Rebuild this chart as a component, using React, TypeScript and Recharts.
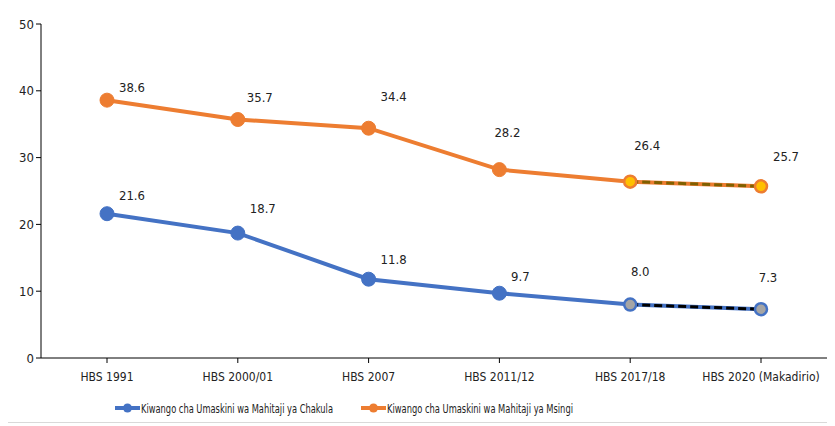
import { LineChart, Line, XAxis, YAxis, Legend } from 'recharts'

const surveys = ['HBS 1991', 'HBS 2000/01', 'HBS 2007', 'HBS 2011/12', 'HBS 2017/18', 'HBS 2020 (Makadirio)']
const foodPoverty = [21.6, 18.7, 11.8, 9.7, 8.0, 7.3]
const basicNeedsPoverty = [38.6, 35.7, 34.4, 28.2, 26.4, 25.7]
const yTicks = [0, 10, 20, 30, 40, 50]

const FOOD_NAME = 'Kiwango cha Umaskini wa Mahitaji ya Chakula'
const BASIC_NAME = 'Kiwango cha Umaskini wa Mahitaji ya Msingi'
const BLUE = '#4472C4'
const ORANGE = '#ED7D31'
const PROJ_START = 4

// hand-placed data label offsets (dx, dy from the point), as in the source chart
const foodLabelOffsets = [[25, -18], [25, -25], [25, -20], [21, -17], [10, -33], [7, -32]]
const basicLabelOffsets = [[25, -13], [22, -22], [25, -32], [8, -37], [17, -36], [25, -30]]

const data = surveys.map((s, i) => ({
 survey: s,
 food: foodPoverty[i],
 basic: basicNeedsPoverty[i],
 foodProj: i >= PROJ_START ? foodPoverty[i] : null,
 basicProj: i >= PROJ_START ? basicNeedsPoverty[i] : null,
}))

const font = '"Liberation Sans Narrow", "DejaVu Sans Condensed", sans-serif'

const solidDot = (color: string) => (props: any) => {
 const { cx, cy, index } = props
 if (index >= PROJ_START || cx == null) return <g key={`d${index}`} />
 return <circle key={`d${index}`} cx={cx} cy={cy} r={7} fill={color} stroke={color} />
}

const projDot = (stroke: string, fill: string) => (props: any) => {
 const { cx, cy, index, value } = props
 if (value == null || cx == null) return <g key={`p${index}`} />
 return <circle key={`p${index}`} cx={cx} cy={cy} r={6} fill={fill} stroke={stroke} strokeWidth={2.5} />
}

const valueLabel = (offsets: number[][]) => (props: any) => {
 const { x, y, value, index } = props
 const [dx, dy] = offsets[index] || [24, -15]
 return (
 <text key={`l${index}`} x={x + dx} y={y + dy + 4.5} textAnchor="middle" fontSize={13} fill="#222" fontFamily={font}>
 {Number(value).toFixed(1)}
 </text>
 )
}

function LegendContent() {
 const items = [
 { name: FOOD_NAME, color: BLUE, x: 109, w: 192 },
 { name: BASIC_NAME, color: ORANGE, x: 355, w: 186 },
 ]
 return (
 <svg width={825} height={20} style={{ display: 'block' }}>
 {items.map((it) => (
 <g key={it.name}>
 <line x1={it.x} x2={it.x + 25} y1={10} y2={10} stroke={it.color} strokeWidth={4} />
 <circle cx={it.x + 12.5} cy={10} r={4.5} fill={it.color} />
 <text
 x={it.x + 26}
 y={14.5}
 fontSize={13}
 fill="#222"
 fontFamily={font}
 textLength={it.w}
 lengthAdjust="spacingAndGlyphs"
 >
 {it.name}
 </text>
 </g>
 ))}
 </svg>
 )
}

export default function App() {
 return (
 <div style={{ margin: '-3px 0 0 -3px', width: 825, height: 416, border: '1px solid #d9d9d9', background: '#fff' }}>
 <LineChart width={825} height={416} data={data} margin={{ top: 18, right: 4, left: 0, bottom: 4 }}>
 <XAxis
 dataKey="survey"
 stroke="#000"
 tickSize={5}
 tick={{ fill: '#222', fontSize: 12, fontFamily: font }}
 tickMargin={9}
 interval={0}
 height={40}
 padding={{ left: 66, right: 66 }}
 />
 <YAxis
 domain={[0, 50]}
 ticks={yTicks}
 width={35}
 stroke="#000"
 tickSize={5}
 tick={{ fill: '#222', fontSize: 13, fontFamily: font }}
 />
 <Legend verticalAlign="bottom" content={() => <LegendContent />} />
 <Line
 dataKey="food"
 name={FOOD_NAME}
 stroke={BLUE}
 strokeWidth={4}
 dot={solidDot(BLUE)}
 activeDot={false}
 label={valueLabel(foodLabelOffsets)}
 isAnimationActive={false}
 />
 <Line
 dataKey="foodProj"
 legendType="none"
 stroke="#000"
 strokeWidth={3}
 strokeDasharray="8 4"
 dot={projDot(BLUE, '#A5A5A5')}
 activeDot={false}
 isAnimationActive={false}
 />
 <Line
 dataKey="basic"
 name={BASIC_NAME}
 stroke={ORANGE}
 strokeWidth={4}
 dot={solidDot(ORANGE)}
 activeDot={false}
 label={valueLabel(basicLabelOffsets)}
 isAnimationActive={false}
 />
 <Line
 dataKey="basicProj"
 legendType="none"
 stroke="#7F6000"
 strokeWidth={3}
 strokeDasharray="8 4"
 dot={projDot(ORANGE, '#FFC000')}
 activeDot={false}
 isAnimationActive={false}
 />
 </LineChart>
 </div>
 )
}
